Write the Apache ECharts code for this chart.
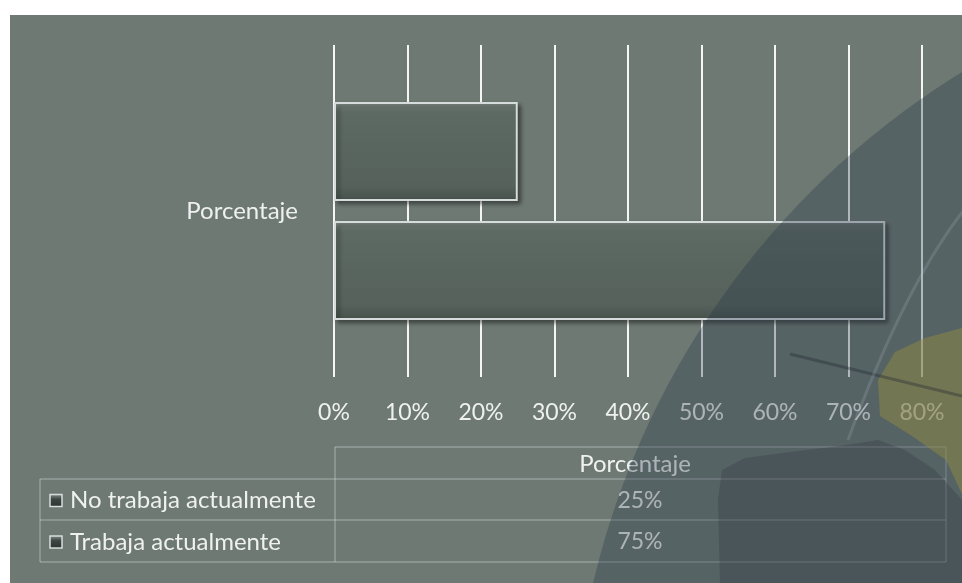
<!DOCTYPE html>
<html>
<head>
    <meta charset="utf-8">
    <title>Porcentaje</title>
    <script src="https://cdn.jsdelivr.net/npm/echarts@6/dist/echarts.min.js"></script>
    <style>
        html, body { margin: 0; padding: 0; background: #ffffff; }
    </style>
</head>
<body>
    <div id="main" style="width: 962px;height:583px;"></div>
    <script type="text/javascript">
        var categories = ['Porcentaje'];
        var seriesNames = ['No trabaja actualmente', 'Trabaja actualmente'];
        var seriesValues = [0.25, 0.75];
        var xTickMin = 0, xTickMax = 0.8, xTickStep = 0.1;

        function pct(v) {
            return Math.round(v * 100) + '%';
        }

        var FONT = 'Lato';
        var textColor = '#eef1f0';
        var tableLine = 'rgba(225,232,232,0.5)';

        // bars
        var series = [];
        for (var i = 0; i < seriesNames.length; i++) {
            series.push({
                name: seriesNames[i],
                type: 'bar',
                data: [seriesValues[i]],
                barWidth: 99,
                barGap: '20%',
                itemStyle: {
                    color: new echarts.graphic.LinearGradient(0, 0, 0, 1, [
                        { offset: 0, color: '#86918b' },
                        { offset: 0.1, color: '#5d6963' },
                        { offset: 0.85, color: '#55615a' },
                        { offset: 1, color: '#46514b' }
                    ]),
                    borderColor: '#d6dcdb',
                    borderWidth: 2,
                    shadowColor: 'rgba(0,0,0,0.4)',
                    shadowBlur: 4,
                    shadowOffsetX: 3,
                    shadowOffsetY: 3
                }
            });
        }

        // data table under the axis
        var tbl = { left: 40, mid: 335, right: 946, head: 447, rows: [479, 520, 562] };
        var graphics = [];
        function hline(x1, x2, y) {
            graphics.push({ type: 'line', z: 20, shape: { x1: x1, y1: y, x2: x2, y2: y },
                style: { stroke: tableLine, lineWidth: 1 } });
        }
        function vline(x, y1, y2) {
            graphics.push({ type: 'line', z: 20, shape: { x1: x, y1: y1, x2: x, y2: y2 },
                style: { stroke: tableLine, lineWidth: 1 } });
        }
        hline(tbl.mid, tbl.right, tbl.head);
        hline(tbl.left, tbl.right, tbl.rows[0]);
        hline(tbl.left, tbl.right, tbl.rows[1]);
        hline(tbl.left, tbl.right, tbl.rows[2]);
        vline(tbl.left, tbl.rows[0], tbl.rows[2]);
        vline(tbl.mid, tbl.head, tbl.rows[2]);
        vline(tbl.right, tbl.head, tbl.rows[2]);
        var colCenter = 635;
        graphics.push({ type: 'text', z: 20, style: {
            text: categories[0], x: colCenter, y: (tbl.head + tbl.rows[0]) / 2 + 1,
            align: 'center', verticalAlign: 'middle', fill: textColor,
            fontSize: 24, fontFamily: FONT } });
        for (var r = 0; r < seriesNames.length; r++) {
            var cy = (tbl.rows[r] + tbl.rows[r + 1]) / 2 + 1;
            graphics.push({ type: 'rect', z: 20, shape: { x: 50, y: cy - 6, width: 12, height: 12 },
                style: { fill: new echarts.graphic.LinearGradient(0, 0, 0, 1, [
                    { offset: 0, color: '#8a948f' }, { offset: 0.4, color: '#3c4642' }, { offset: 1, color: '#2a322f' }
                ]), stroke: '#d6dcdb', lineWidth: 1.5 } });
            graphics.push({ type: 'text', z: 20, style: {
                text: seriesNames[r], x: 70, y: cy,
                align: 'left', verticalAlign: 'middle', fill: textColor,
                fontSize: 24, fontFamily: FONT } });
            graphics.push({ type: 'text', z: 20, style: {
                text: pct(seriesValues[r]), x: 640, y: cy,
                align: 'center', verticalAlign: 'middle', fill: textColor,
                fontSize: 23, fontFamily: FONT } });
        }

        // globe picture laid over the slide (semi transparent)
        graphics.push({ type: 'circle', z: 100, silent: true, shape: { cx: 1393, cy: 772, r: 822 },
            style: { fill: 'rgba(40,55,72,0.33)' } });
        graphics.push({ type: 'polygon', z: 101, silent: true, shape: { points: [
            [720, 583], [718, 500], [722, 470], [745, 458], [790, 452], [840, 446], [878, 440],
            [905, 450], [935, 470], [962, 500], [962, 583]] },
            style: { fill: 'rgba(25,32,42,0.2)' } });
        graphics.push({ type: 'polygon', z: 102, silent: true, shape: { points: [
            [878, 380], [895, 352], [925, 338], [962, 328], [962, 494], [946, 460],
            [912, 436], [880, 416]] },
            style: { fill: 'rgba(150,142,62,0.45)' } });
        graphics.push({ type: 'line', z: 103, silent: true, shape: { x1: 790, y1: 354, x2: 962, y2: 396 },
            style: { stroke: 'rgba(30,38,45,0.35)', lineWidth: 3 } });
        graphics.push({ type: 'bezierCurve', z: 103, silent: true,
            shape: { x1: 964, y1: 210, cpx1: 905, cpy1: 285, x2: 848, y2: 440 },
            style: { stroke: 'rgba(190,200,210,0.18)', lineWidth: 3, fill: null } });

        // white margins of the slide picture
        graphics.push({ type: 'rect', z: 200, silent: true, shape: { x: 0, y: 0, width: 962, height: 15 },
            style: { fill: '#ffffff' } });
        graphics.push({ type: 'rect', z: 200, silent: true, shape: { x: 0, y: 0, width: 10, height: 583 },
            style: { fill: '#ffffff' } });

        var myChart = echarts.init(document.getElementById('main'));
        var option = {
            backgroundColor: '#6e7973',
            animation: false,
            grid: { left: 334, right: 40, top: 45, bottom: 206, containLabel: false },
            xAxis: {
                type: 'value',
                min: xTickMin,
                max: xTickMax,
                interval: xTickStep,
                axisLine: { show: false },
                axisTick: { show: false },
                axisLabel: {
                    margin: 24,
                    color: textColor,
                    fontSize: 23,
                    fontFamily: FONT,
                    formatter: function (v) { return pct(v); }
                },
                splitLine: { lineStyle: { color: '#f4f6f6', width: 2 } }
            },
            yAxis: {
                type: 'category',
                data: categories,
                inverse: true,
                axisLine: { show: false },
                axisTick: { show: false },
                axisLabel: { margin: 36, color: textColor, fontSize: 24, fontFamily: FONT }
            },
            series: series,
            graphic: { elements: graphics }
        };
        myChart.setOption(option);

        window.addEventListener("resize", function () {
            myChart.resize();
        });
    </script>
</body>
</html>
